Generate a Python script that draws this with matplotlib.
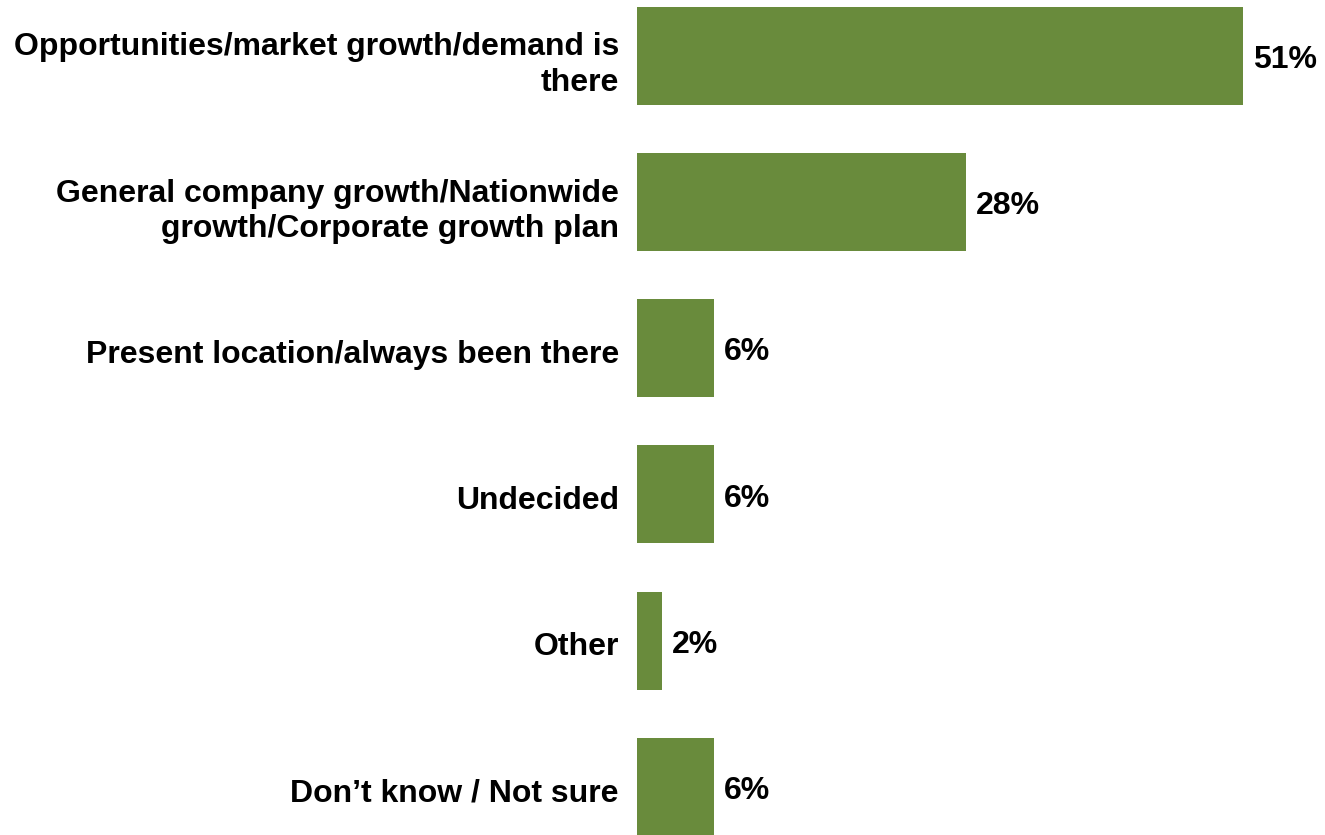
import matplotlib.pyplot as plt
from matplotlib.transforms import ScaledTranslation

categories = [
    "Opportunities/market growth/demand is\nthere",
    "General company growth/Nationwide\ngrowth/Corporate growth plan",
    "Present location/always been there",
    "Undecided",
    "Other",
    "Don\u2019t know / Not sure",
]
# bar lengths; labels are the rounded figures shown
values = [51, 27.7, 6.5, 6.5, 2.1, 6.5]
value_labels = ["51%", "28%", "6%", "6%", "2%", "6%"]

BAR_COLOR = "#698B3C"

plt.rcParams["font.family"] = ["Liberation Sans", "DejaVu Sans"]

fig = plt.figure(figsize=(13.25, 8.35), dpi=100)
ax = fig.add_axes([637 / 1325, 0.0, 1 - 637 / 1325, 1.0])

pos = list(range(len(categories)))
ax.barh(pos, values, height=0.67, color=BAR_COLOR)
ax.set_ylim(5.33, -0.3825)
ax.set_xlim(0, 57.9)

for p, v, lab in zip(pos, values, value_labels):
    ax.annotate(lab, (v, p), xytext=(7, -3), textcoords="offset points",
                ha="left", va="center", fontsize=23, fontweight="bold")

ax.set_yticks(pos)
ax.set_yticklabels(categories, fontsize=23, fontweight="bold", ha="right",
                   linespacing=1.25)
ax.tick_params(axis="y", length=0, pad=13)
shift = ScaledTranslation(0, -3 / 100, fig.dpi_scale_trans)
for label in ax.get_yticklabels():
    label.set_transform(label.get_transform() + shift)
ax.set_xticks([])
for spine in ax.spines.values():
    spine.set_visible(False)

fig.savefig("out.png", dpi=100)
